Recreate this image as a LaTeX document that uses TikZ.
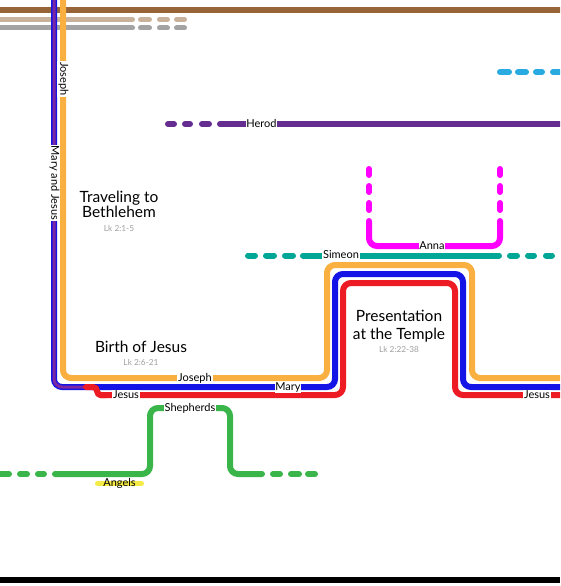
\documentclass[tikz,border=0pt]{standalone}
\usepackage{fontspec}
\setmainfont{Lato}
\definecolor{brownc}{RGB}{150,100,55}
\definecolor{tanc}{RGB}{200,178,155}
\definecolor{grayc}{RGB}{163,163,163}
\definecolor{orangec}{RGB}{250,176,64}
\definecolor{bluec}{RGB}{20,20,230}
\definecolor{redc}{RGB}{237,28,36}
\definecolor{herodc}{RGB}{102,45,145}
\definecolor{mixc}{RGB}{125,40,160}
\definecolor{skyc}{RGB}{41,171,226}
\definecolor{magc}{RGB}{255,0,255}
\definecolor{tealc}{RGB}{0,166,150}
\definecolor{greenc}{RGB}{57,181,74}
\definecolor{yellowc}{RGB}{245,235,70}
\definecolor{refgray}{RGB}{160,160,160}
\begin{document}
\begin{tikzpicture}[x=1pt,y=-1pt,
  route/.style={line width=6pt, rounded corners=8pt, line cap=round},
  bar/.style={line width=5pt, line cap=round},
  lbl/.style={fill=white, inner sep=0.8pt, font=\fontsize{11}{11}\selectfont, text height=7.5pt, text depth=2.2pt},
  title/.style={anchor=base, font=\fontsize{15.5}{16}\selectfont, text=black},
  ref/.style={anchor=base, font=\fontsize{8.3}{9}\selectfont, text=refgray}]
\useasboundingbox (0,0) rectangle (560,586);
\clip (0,0) rectangle (560,586);
\fill[white] (0,0) rectangle (560,586);
% top lines
\draw[brownc, line width=6pt] (-5,10) -- (565,10);
\draw[tanc, bar] (-5,19.5) -- (132.5,19.5) (140.5,19.5) -- (149.5,19.5) (159.5,19.5) -- (167.5,19.5) (176.5,19.5) -- (184.5,19.5);
\draw[grayc, bar] (-5,28) -- (132.5,28) (140.5,28) -- (149.5,28) (159.5,28) -- (167.5,28) (176.5,28) -- (184.5,28);
% sky blue dashes
\draw[skyc, route] (500,72) -- (509,72) (518,72) -- (526,72) (536,72) -- (542,72) (553,72) -- (565,72);
% Herod
\draw[herodc, route] (168,124) -- (174,124) (185,124) -- (190,124) (202,124) -- (209,124) (220,124) -- (565,124);
% Anna
\draw[magc, route] (369,221) -- (369,246) -- (500,246) -- (500,221);
\draw[magc, route] (369,169) -- (369,175) (369,186) -- (369,192) (369,203) -- (369,210)
                   (500,169) -- (500,175) (500,186) -- (500,192) (500,203) -- (500,210);
% Simeon
\draw[tealc, route] (248,255.5) -- (255,255.5) (266,255.5) -- (274,255.5) (285,255.5) -- (293,255.5)
                    (303,255.5) -- (499,255.5) (510,255.5) -- (517,255.5) (528,255.5) -- (534,255.5) (546,255.5) -- (552,255.5);
% Shepherds
\draw[greenc, route] (-5,474) -- (9,474) (20,474) -- (27,474) (38,474) -- (44,474)
                     (273,474) -- (280,474) (291,474) -- (299,474) (308,474) -- (315,474);
\draw[greenc, route] (55,474) -- (150,474) -- (150,408) -- (230,408) -- (230,474) -- (262,474);
% Angels
\draw[yellowc, bar] (97.5,483.5) -- (141.5,483.5);
% Mary (blue) and composite
\draw[bluec, route] (54,-5) -- (54,387) -- (335,387) -- (335,274) -- (463,274) -- (463,387) -- (565,387);
\draw[mixc, line width=3pt, rounded corners=8pt] (54,-5) -- (54,387) -- (90,387);
% Joseph (orange)
\draw[orangec, route] (63,-5) -- (63,378) -- (327,378) -- (327,265) -- (472,265) -- (472,378) -- (565,378);
% Jesus (red)
\draw[redc, route, rounded corners=4pt] (86,387) -- (97,387) -- (97,395) -- (106,395);
\draw[redc, route] (100,395) -- (343,395) -- (343,283) -- (455,283) -- (455,395) -- (565,395);
% bottom bar
\fill[black] (0,577) rectangle (560,583);
% labels
\node[lbl] (herod) at (261.5,124.5) {Herod};
\node[lbl] (simeon) at (341,256) {Simeon};
\node[lbl] (anna) at (432,246.5) {Anna};
\node[lbl] (josephh) at (195,378.5) {Joseph};
\node[lbl] (mary) at (288,387.5) {Mary};
\node[lbl] (jesus1) at (126,395.5) {Jesus};
\node[lbl] (jesus2) at (537,395.5) {Jesus};
\node[lbl] (shep) at (190,408.5) {Shepherds};
\node[lbl, fill=none] (angels) at (119.5,484) {Angels};
\node[lbl, rotate=-90] (josephv) at (63,79) {Joseph};
\node[lbl, rotate=-90] (maryjesus) at (54,183) {Mary and Jesus};
% titles
\node[title] (t1a) at (119,202.7) {Traveling to};
\node[title] (t1b) at (119,217.7) {Bethlehem};
\node[ref] (r1) at (119,231.7) {Lk 2:1-5};
\node[title] (t2) at (141,352.3) {Birth of Jesus};
\node[ref] (r2) at (141,365) {Lk 2:6-21};
\node[title] (t3a) at (399,321.7) {Presentation};
\node[title] (t3b) at (399,339) {at the Temple};
\node[ref] (r3) at (399,352.3) {Lk 2:22-38};
\end{tikzpicture}
\end{document}
